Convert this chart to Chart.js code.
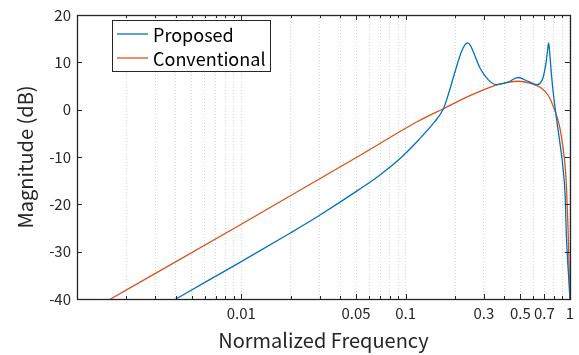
<!DOCTYPE html>
<html>
<head>
<meta charset="utf-8">
<script src="https://cdn.jsdelivr.net/npm/chart.js@4.4.1/dist/chart.umd.min.js"></script>
<style>
  html, body { margin: 0; padding: 0; background: #fff; }
  #wrap { width: 579px; height: 355px; }
</style>
</head>
<body>
<div id="wrap"><canvas id="magChart" width="579" height="355"></canvas></div>
<script>
// values (normalized frequency, dB)
const proposedFreq = [0.004, 0.006, 0.01, 0.02, 0.03, 0.052, 0.0686, 0.0908, 0.12, 0.15, 0.17, 0.182, 0.195, 0.219, 0.23, 0.239, 0.248, 0.258, 0.284, 0.319, 0.357, 0.42, 0.484, 0.556, 0.63, 0.686, 0.718, 0.732, 0.743, 0.755, 0.77, 0.789, 0.826, 0.865, 0.907, 0.937, 0.951, 0.97, 0.99, 1];
const proposedDb = [-40, -36.5, -32.1, -26.0, -22.3, -16.9, -14.0, -10.6, -6.4, -2.6, 0.2, 3.2, 6.7, 12.3, 13.7, 14.1, 13.6, 12.3, 8.8, 6.3, 5.3, 5.8, 6.8, 6.0, 5.3, 6.7, 10.2, 12.6, 14.1, 11.8, 8.1, 4.2, -1.4, -6.4, -12.0, -18.4, -26, -32, -37, -40];

const conventionalFreq = [0.0016, 0.01, 0.052, 0.12, 0.17, 0.241, 0.297, 0.366, 0.484, 0.597, 0.67, 0.736, 0.807, 0.865, 0.907, 0.937, 0.951, 0.96, 0.975, 0.99, 1];
const conventionalDb = [-40, -24.2, -9.8, -2.4, 0.2, 2.8, 4.2, 5.3, 6.0, 5.4, 4.6, 3.1, 0.0, -3.5, -7.8, -12.0, -15.5, -19.0, -25, -33, -40];

const seriesNames = ['Proposed', 'Conventional'];
const seriesColors = ['#0072BD', '#D95319'];
const xTickLabels = [0.01, 0.05, 0.1, 0.3, 0.5, 0.7, 1];
const yTicks = [-40, -30, -20, -10, 0, 10, 20];

// log grid: 1..9 per decade
const xGrid = [];
for (let e = -3; e <= -1; e++) {
  for (let k = 1; k <= 9; k++) xGrid.push(Number(k + 'e' + e));
}
xGrid.push(1);

const axisColor = '#262626';
const fontFamily = '"Noto Sans CJK JP", "Noto Sans", sans-serif';

// box, inward ticks and legend like the original figure
const boxPlugin = {
  id: 'matlabBox',
  afterDraw(chart) {
    const { ctx, chartArea: a, scales: { x, y } } = chart;
    ctx.save();
    ctx.strokeStyle = axisColor;
    ctx.lineWidth = 1;
    ctx.beginPath();
    x.ticks.forEach(t => {
      const px = Math.round(x.getPixelForValue(t.value)) + 0.5;
      const len = xTickLabels.includes(t.value) ? 5 : 3;
      ctx.moveTo(px, a.bottom); ctx.lineTo(px, a.bottom - len);
      ctx.moveTo(px, a.top); ctx.lineTo(px, a.top + len);
    });
    y.ticks.forEach(t => {
      const py = Math.round(y.getPixelForValue(t.value)) + 0.5;
      ctx.moveTo(a.left, py); ctx.lineTo(a.left + 5, py);
      ctx.moveTo(a.right, py); ctx.lineTo(a.right - 5, py);
    });
    ctx.stroke();
    ctx.lineWidth = 1.3;
    ctx.strokeRect(Math.round(a.left) + 0.5, Math.round(a.top) + 0.5, Math.round(a.right - a.left), Math.round(a.bottom - a.top));

    // legend
    const lx = 112, ly = 20, lw = 158, lh = 51;
    ctx.fillStyle = '#fff';
    ctx.fillRect(lx, ly, lw, lh);
    ctx.lineWidth = 1;
    ctx.strokeRect(lx + 0.5, ly + 0.5, lw, lh);
    ctx.font = '18px ' + fontFamily;
    ctx.textBaseline = 'middle';
    chart.data.datasets.forEach((ds, i) => {
      const yy = ly + 14 + i * 24;
      ctx.strokeStyle = ds.borderColor;
      ctx.lineWidth = 1.3;
      ctx.beginPath();
      ctx.moveTo(lx + 5, yy); ctx.lineTo(lx + 36, yy);
      ctx.stroke();
      ctx.fillStyle = '#000';
      ctx.fillText(ds.label, lx + 41, yy + 1);
    });
    ctx.restore();
  }
};

function makeData(freq, db) {
  return freq.map((f, i) => ({ x: f, y: db[i] }));
}

new Chart(document.getElementById('magChart'), {
  type: 'line',
  data: {
    datasets: [
      { label: seriesNames[0], data: makeData(proposedFreq, proposedDb), borderColor: seriesColors[0] },
      { label: seriesNames[1], data: makeData(conventionalFreq, conventionalDb), borderColor: seriesColors[1] }
    ]
  },
  options: {
    responsive: false,
    animation: false,
    devicePixelRatio: 1,
    layout: { padding: { left: 0, right: 8, top: 15, bottom: 0 } },
    elements: {
      point: { radius: 0 },
      line: { borderWidth: 1.3, cubicInterpolationMode: 'monotone' }
    },
    plugins: { legend: { display: false }, tooltip: { enabled: false } },
    scales: {
      x: {
        type: 'logarithmic',
        min: 0.001,
        max: 1,
        afterBuildTicks: s => { s.ticks = xGrid.map(v => ({ value: v })); },
        afterFit: s => { s.height = 56; },
        ticks: {
          autoSkip: false,
          maxRotation: 0,
          padding: 5,
          color: axisColor,
          font: { family: fontFamily, size: 15 },
          callback: v => xTickLabels.includes(v) ? String(v) : ''
        },
        grid: { color: '#d4d4d4', drawTicks: false, lineWidth: 1 },
        border: { display: false, dash: [1, 2] },
        title: {
          display: true,
          text: 'Normalized Frequency',
          color: axisColor,
          font: { family: fontFamily, size: 20 },
          padding: { top: 0, bottom: 3 }
        }
      },
      y: {
        min: -40,
        max: 20,
        afterBuildTicks: s => { s.ticks = yTicks.map(v => ({ value: v })); },
        afterFit: s => { s.width = 77; },
        ticks: {
          padding: 6,
          color: axisColor,
          font: { family: fontFamily, size: 15 }
        },
        grid: { display: false, drawTicks: false },
        border: { display: false },
        title: {
          display: true,
          text: 'Magnitude (dB)',
          color: axisColor,
          font: { family: fontFamily, size: 20 },
          padding: { top: 13, bottom: 0 }
        }
      }
    }
  },
  plugins: [boxPlugin]
});
</script>
</body>
</html>
